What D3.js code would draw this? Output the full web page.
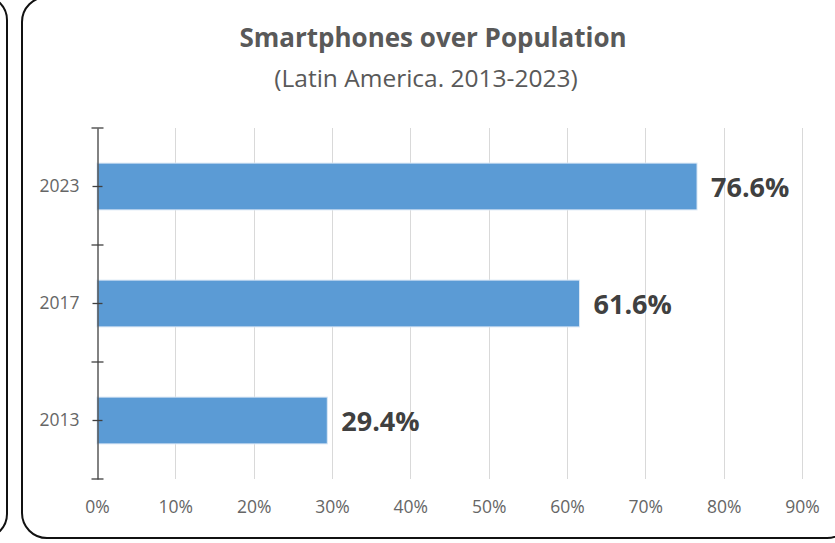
<!DOCTYPE html>
<html>
<head>
<meta charset="utf-8">
<script src="https://cdn.jsdelivr.net/npm/d3@7"></script>
<style>
  body { margin: 0; background: #fff; }
  svg { display: block; font-family: "Open Sans", sans-serif; }
</style>
</head>
<body>
<svg id="chart" width="835" height="543"></svg>
<script>
var years = ["2023", "2017", "2013"];
var shares = [0.766, 0.616, 0.294];
var xTicks = [0, 0.1, 0.2, 0.3, 0.4, 0.5, 0.6, 0.7, 0.8, 0.9];
var titleText = "Smartphones over Population";
var subtitleText = "(Latin America. 2013-2023)";

var rows = years.map((y, i) => ({ year: y, value: shares[i] }));

var svg = d3.select("#chart");

// panel borders (neighbouring panel on the left is cut off)
svg.append("rect")
    .attr("x", -60).attr("y", -4)
    .attr("width", 67).attr("height", 542)
    .attr("rx", 24)
    .attr("fill", "none").attr("stroke", "#111").attr("stroke-width", 2);
svg.append("rect")
    .attr("x", 22).attr("y", -3)
    .attr("width", 830).attr("height", 541)
    .attr("rx", 25)
    .attr("fill", "none").attr("stroke", "#111").attr("stroke-width", 2);

var x = d3.scaleLinear()
    .domain([0, 0.9])
    .range([97, 802]);

var y = d3.scaleBand()
    .domain(years)
    .range([128, 479])
    .paddingInner(0.6)
    .paddingOuter(0.3);

// gridlines
svg.append("g")
    .selectAll("line")
    .data(xTicks.filter(d => d > 0))
    .enter()
    .append("line")
    .attr("x1", d => Math.round(x(d)) + 0.5)
    .attr("x2", d => Math.round(x(d)) + 0.5)
    .attr("y1", y.range()[0])
    .attr("y2", y.range()[1])
    .attr("stroke", "#d9d9d9")
    .attr("stroke-width", 1);

// bars
svg.append("g")
    .selectAll("rect")
    .data(rows)
    .enter()
    .append("rect")
    .attr("x", x(0))
    .attr("y", d => y(d.year))
    .attr("width", d => x(d.value) - x(0))
    .attr("height", y.bandwidth())
    .attr("fill", "#5b9bd5")
    .attr("stroke", "#dbe8f5")
    .attr("stroke-width", 1);

// data labels
svg.append("g")
    .selectAll("text")
    .data(rows)
    .enter()
    .append("text")
    .attr("x", d => x(d.value) + 14)
    .attr("y", d => y(d.year) + y.bandwidth() / 2)
    .attr("dy", "0.38em")
    .attr("font-size", 27)
    .attr("font-weight", "bold")
    .attr("fill", "#404040")
    .text(d => d3.format(".1%")(d.value));

// y axis
var yAxis = svg.append("g")
    .attr("transform", "translate(" + (x(0) + 0.5) + ",0)")
    .call(d3.axisLeft(y).tickSizeInner(5).tickSizeOuter(0).tickPadding(13));
yAxis.select(".domain").attr("stroke", "#595959").attr("stroke-width", 1.5);
yAxis.selectAll(".tick line").attr("x1", 5).attr("stroke", "#404040").attr("stroke-width", 1.3);
yAxis.selectAll(".tick text")
    .attr("font-size", 17.5)
    .attr("font-family", "Open Sans, sans-serif")
    .attr("fill", "#666");

// boundary ticks between categories
var bounds = d3.range(years.length + 1).map(i => y.range()[0] + i * y.step());
yAxis.append("g")
    .selectAll("line")
    .data(bounds)
    .enter()
    .append("line")
    .attr("x1", -6).attr("x2", 6)
    .attr("y1", d => d).attr("y2", d => d)
    .attr("stroke", "#404040")
    .attr("stroke-width", 1.3);

// x axis labels
var xAxis = svg.append("g")
    .attr("transform", "translate(0," + y.range()[1] + ")")
    .call(d3.axisBottom(x).tickValues(xTicks).tickFormat(d3.format(".0%")).tickSize(0).tickPadding(22));
xAxis.select(".domain").remove();
xAxis.selectAll(".tick text")
    .attr("font-size", 17.5)
    .attr("font-family", "Open Sans, sans-serif")
    .attr("fill", "#666");

// titles
svg.append("text")
    .attr("x", 433).attr("y", 47)
    .attr("text-anchor", "middle")
    .attr("font-size", 26)
    .attr("font-weight", "bold")
    .attr("fill", "#595959")
    .text(titleText);
svg.append("text")
    .attr("x", 426).attr("y", 87)
    .attr("text-anchor", "middle")
    .attr("font-size", 24.5)
    .attr("fill", "#595959")
    .text(subtitleText);
</script>
</body>
</html>
